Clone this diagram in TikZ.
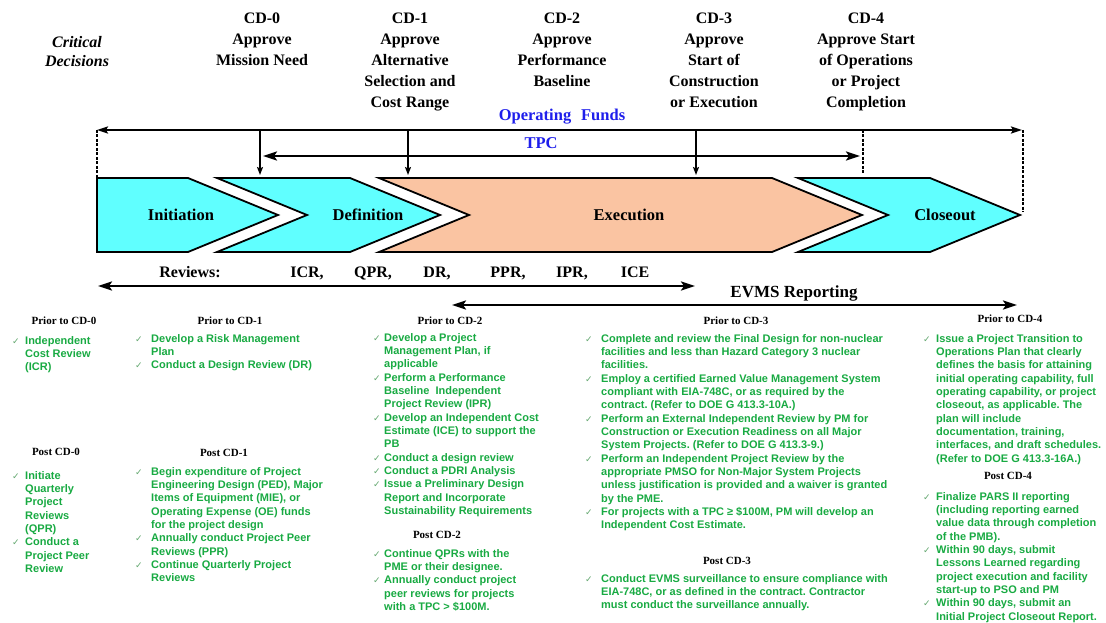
\documentclass[tikz,border=0pt]{standalone}
\usepackage{fontspec}
\setmainfont{Liberation Serif}
\newfontfamily\itemfont{Liberation Sans}
\newfontfamily\symfont{DejaVu Sans}
\usetikzlibrary{arrows.meta}
\frenchspacing

\definecolor{phasecyan}{RGB}{96,255,255}
\definecolor{phasepeach}{RGB}{250,196,162}
\definecolor{itemgreen}{RGB}{24,170,66}
\definecolor{checkgreen}{RGB}{100,168,112}
\definecolor{fundblue}{RGB}{30,30,235}

% stacked lines with the first baseline as the node baseline
\newcommand\stackl[1]{\begin{tabular}[t]{@{}l@{}}#1\end{tabular}}
\newcommand\stackc[1]{\begin{tabular}[t]{@{}c@{}}#1\end{tabular}}
% check mark hung to the left of an item, #1 = gap in pt
\newcommand\ck[1]{\llap{\makebox[#1pt][l]{\symfont\fontsize{9}{9}\selectfont\color{checkgreen}✓}}}

\begin{document}
\begin{tikzpicture}[x=1pt,y=-1pt,
  hd/.style={font=\fontsize{16}{20.8}\selectfont\bfseries, inner sep=0, anchor=base},
  crit/.style={hd, font=\fontsize{16}{19.5}\selectfont\bfseries\itshape},
  fund/.style={font=\fontsize{16.5}{20}\selectfont\bfseries, text=fundblue, inner sep=0},
  phase/.style={draw=black, line width=1.8pt, line join=miter},
  phaselabel/.style={font=\fontsize{16.5}{20}\selectfont\bfseries, inner sep=0},
  span/.style={line width=2.2pt, {Stealth[length=14pt,width=9pt,inset=3pt]}-{Stealth[length=14pt,width=9pt,inset=3pt]}},
  fundspan/.style={line width=2pt, {Stealth[length=11pt,width=7pt,inset=2pt]}-{Stealth[length=11pt,width=7pt,inset=2pt]}},
  drop/.style={line width=1.6pt, -{Stealth[length=8pt,width=6pt,inset=1.5pt]}},
  guide/.style={line width=1.6pt, dash pattern=on 3pt off 1.5pt},
  rev/.style={font=\fontsize{16}{20}\selectfont\bfseries, inner sep=0, anchor=base},
  colhead/.style={font=\fontsize{11}{13}\selectfont\bfseries, inner sep=0, anchor=base},
  items/.style={font=\itemfont\fontsize{11}{13.35}\selectfont\bfseries, text=itemgreen, inner sep=0, anchor=base west}]

\useasboundingbox (0,0) rectangle (1106,623);

% ---- critical decision headings
\node[crit] (critical) at (77,47.5) {\stackc{Critical\\Decisions}};
\node[hd] (cd0) at (262,24) {\stackc{CD-0\\Approve\\Mission Need}};
\node[hd] (cd1) at (410,24) {\stackc{CD-1\\Approve\\Alternative\\Selection and\\Cost Range}};
\node[hd] (cd2) at (562,24) {\stackc{CD-2\\Approve\\Performance\\Baseline}};
\node[hd] (cd3) at (714,24) {\stackc{CD-3\\Approve\\Start of\\Construction\\or Execution}};
\node[hd] (cd4) at (866,24) {\stackc{CD-4\\Approve Start\\of Operations\\or Project\\Completion}};

% ---- funding spans
\node[fund] (funds) at (562,117) {Operating\hspace{0.6em}Funds};
\node[fund] (tpc) at (541,143) {TPC};

\coordinate (fundL) at (97,130);
\coordinate (fundR) at (1022,130);
\coordinate (tpcL) at (263,156);
\coordinate (tpcR) at (860,156);
\coordinate (tpcEnd) at (863,130);
\coordinate (tpcEndLow) at (863,174);
\coordinate (initCorner) at (97,177);
\coordinate (closeTip) at (1023,212);
\coordinate (fundRx) at (1023,130);

\draw[fundspan] (fundL) -- (fundR);
\draw[span] (tpcL) -- (tpcR);
\draw[guide] (fundL) -- (initCorner);
\draw[guide] (fundRx) -- (closeTip);
\draw[guide] (tpcEnd) -- (tpcEndLow);

\coordinate (d0a) at (260,130); \coordinate (d0b) at (260,175);
\coordinate (d1a) at (408,130); \coordinate (d1b) at (408,175);
\coordinate (d3a) at (696,130); \coordinate (d3b) at (696,175);
\draw[drop] (d0a) -- (d0b);
\draw[drop] (d1a) -- (d1b);
\draw[drop] (d3a) -- (d3b);

% ---- phase chevrons
\path[phase, fill=phasecyan] (97,178) -- (188,178) -- (278,215) -- (188,252) -- (97,252) -- cycle;
\path[phase, fill=phasecyan] (217,178) -- (350,178) -- (440,215) -- (350,252) -- (217,252) -- (307,215) -- cycle;
\path[phase, fill=phasepeach] (379,178) -- (772,178) -- (862,215) -- (772,252) -- (379,252) -- (469,215) -- cycle;
\path[phase, fill=phasecyan] (798,178) -- (930,178) -- (1020,215) -- (930,252) -- (798,252) -- (888,215) -- cycle;

\node[phaselabel] (initiation) at (181,215) {Initiation};
\node[phaselabel] (definition) at (368,215) {Definition};
\node[phaselabel] (execution) at (629,215) {Execution};
\node[phaselabel] (closeout) at (945,215) {Closeout};

% ---- reviews and EVMS reporting
\node[rev] (reviews) at (190,277.5) {Reviews:};
\node[rev] (icr) at (307,277.5) {ICR,};
\node[rev] (qpr) at (373,277.5) {QPR,};
\node[rev] (dr) at (437,277.5) {DR,};
\node[rev] (ppr) at (508,277.5) {PPR,};
\node[rev] (ipr) at (572,277.5) {IPR,};
\node[rev] (ice) at (635,277.5) {ICE};

\coordinate (revL) at (98,286);
\coordinate (revR) at (695,286);
\draw[span] (revL) -- (revR);

\node[rev, font=\fontsize{17}{20}\selectfont\bfseries] (evms) at (794,297) {EVMS Reporting};
\coordinate (evmsL) at (452,305);
\coordinate (evmsR) at (1017,305);
\draw[span] (evmsL) -- (evmsR);

% ---- column 1
\node[colhead] (pre0) at (64,324.5) {Prior to CD-0};
\node[items] (pre0i) at (25,344) {\stackl{\ck{13}Independent\\Cost Review\\(ICR)}};
\node[colhead] (post0) at (56,455.5) {Post CD-0};
\node[items] (post0i) at (25,479) {\stackl{\ck{13}Initiate\\Quarterly\\Project\\Reviews\\(QPR)\\
  \ck{13}Conduct a\\Project Peer\\Review}};

% ---- column 2
\node[colhead] (pre1) at (230,324.5) {Prior to CD-1};
\node[items] (pre1i) at (151,342) {\stackl{\ck{16}Develop a Risk Management\\Plan\\
  \ck{16}Conduct a Design Review (DR)}};
\node[colhead] (post1) at (224,456) {Post CD-1};
\node[items] (post1i) at (151,475) {\stackl{\ck{16}Begin expenditure of Project\\Engineering Design (PED), Major\\Items of Equipment (MIE), or\\Operating Expense (OE) funds\\for the project design\\
  \ck{16}Annually conduct Project Peer\\Reviews (PPR)\\
  \ck{16}Continue Quarterly Project\\Reviews}};

% ---- column 3
\node[colhead] (pre2) at (450,324.5) {Prior to CD-2};
\node[items] (pre2i) at (384,341) {\stackl{\ck{11}Develop a Project\\Management Plan, if\\applicable\\
  \ck{11}Perform a Performance\\Baseline\ \ Independent\\Project Review (IPR)\\
  \ck{11}Develop an Independent Cost\\Estimate (ICE) to support the\\PB\\
  \ck{11}Conduct a design review\\
  \ck{11}Conduct a PDRI Analysis\\
  \ck{11}Issue a Preliminary Design\\Report and Incorporate\\Sustainability Requirements}};
\node[colhead] (post2) at (437,538) {Post CD-2};
\node[items] (post2i) at (384,557) {\stackl{\ck{11}Continue QPRs with the\\PME or their designee.\\
  \ck{11}Annually conduct project\\peer reviews for projects\\with a TPC > \$100M.}};

% ---- column 4
\node[colhead] (pre3) at (736,324.5) {Prior to CD-3};
\node[items] (pre3i) at (601,342) {\stackl{\ck{16}Complete and review the Final Design for non-nuclear\\facilities and less than Hazard Category 3 nuclear\\facilities.\\
  \ck{16}Employ a certified Earned Value Management System\\compliant with EIA-748C, or as required by the\\contract. (Refer to DOE G 413.3-10A.)\\
  \ck{16}Perform an External Independent Review by PM for\\Construction or Execution Readiness on all Major\\System Projects. (Refer to DOE G 413.3-9.)\\
  \ck{16}Perform an Independent Project Review by the\\appropriate PMSO for Non-Major System Projects\\unless justification is provided and a waiver is granted\\by the PME.\\
  \ck{16}For projects with a TPC ≥ \$100M, PM will develop an\\Independent Cost Estimate.}};
\node[colhead] (post3) at (727,564) {Post CD-3};
\node[items] (post3i) at (601,582) {\stackl{\ck{16}Conduct EVMS surveillance to ensure compliance with\\EIA-748C, or as defined in the contract. Contractor\\must conduct the surveillance annually.}};

% ---- column 5
\node[colhead] (pre4) at (1010,322.5) {Prior to CD-4};
\node[items] (pre4i) at (936,342) {\stackl{\ck{13}Issue a Project Transition to\\Operations Plan that clearly\\defines the basis for attaining\\initial operating capability, full\\operating capability, or project\\closeout, as applicable. The\\plan will include\\documentation, training,\\interfaces, and draft schedules.\\(Refer to DOE G 413.3-16A.)}};
\node[colhead] (post4) at (1008,479) {Post CD-4};
\node[items] (post4i) at (936,500) {\stackl{\ck{13}Finalize PARS II reporting\\(including reporting earned\\value data through completion\\of the PMB).\\
  \ck{13}Within 90 days, submit\\Lessons Learned regarding\\project execution and facility\\start-up to PSO and PM\\
  \ck{13}Within 90 days, submit an\\Initial Project Closeout Report.}};

\end{tikzpicture}
\end{document}
